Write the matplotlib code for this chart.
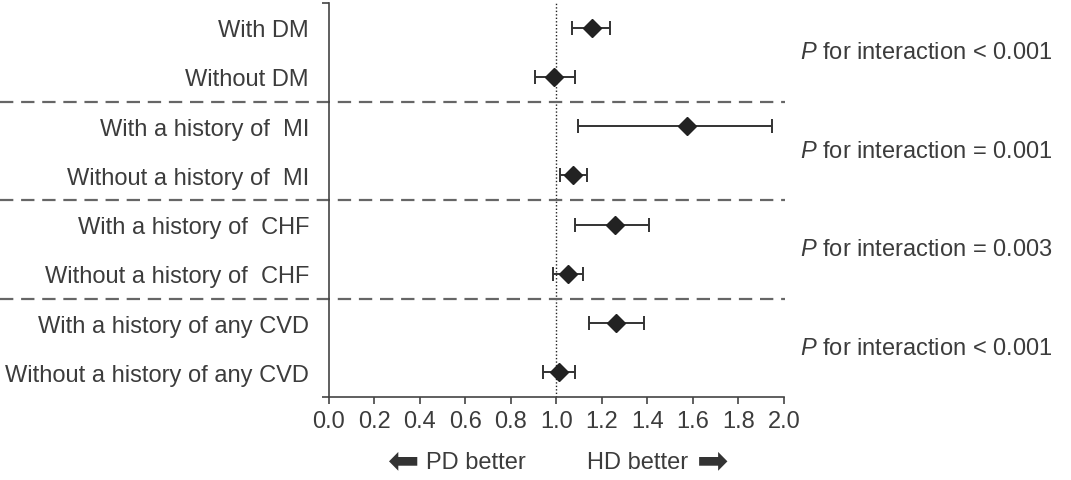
import numpy as np
import matplotlib
matplotlib.use('Agg')
import matplotlib.pyplot as plt
from matplotlib.transforms import blended_transform_factory

plt.rcParams['font.family'] = ['Liberation Sans', 'DejaVu Sans']
plt.rcParams['mathtext.fontset'] = 'custom'
plt.rcParams['mathtext.it'] = 'Liberation Sans:italic'
plt.rcParams['mathtext.rm'] = 'Liberation Sans'

# Subgroups (top to bottom)
labels = ['With DM', 'Without DM',
          'With a history of  MI', 'Without a history of  MI',
          'With a history of  CHF', 'Without a history of  CHF',
          'With a history of any CVD', 'Without a history of any CVD']
est = [1.155, 0.99, 1.575, 1.075, 1.258, 1.053, 1.261, 1.012]
lo = [1.068, 0.906, 1.094, 1.016, 1.082, 0.984, 1.145, 0.943]
hi = [1.236, 1.083, 1.946, 1.136, 1.407, 1.116, 1.385, 1.083]
p_texts = ['< 0.001', '= 0.001', '= 0.003', '< 0.001']

txt = '#3c3c3c'
fs = 17
n = len(labels)
est = np.array(est); lo = np.array(lo); hi = np.array(hi)
ypos = n - 0.5 - np.arange(n)

fig = plt.figure(figsize=(10.71, 4.81), dpi=100)
ax = fig.add_axes([328.5 / 1071, 1 - 398 / 481, (784 - 328.5) / 1071, 394 / 481])

ax.axvline(1.0, color='#222222', lw=1.0, ls=(0, (1, 1.5)), zorder=1)
ax.errorbar(est, ypos, xerr=[est - lo, hi - est], fmt='D', color='#333333',
            mfc='#222222', mec='#222222', ms=9.5, elinewidth=1.4, capsize=4.8,
            capthick=1.4, zorder=3)

# group separators, extending to the left edge of the figure
tr = blended_transform_factory(fig.transFigure, ax.transData)
for yb in [2, 4, 6]:
    ax.plot([0, 785 / 1071], [yb, yb], transform=tr, color='#666666', lw=1.6,
            ls=(0, (6, 3.5)), clip_on=False, zorder=2)

ax.set_xlim(0, 2)
ax.set_ylim(0, n)
ax.set_xticks(np.arange(0, 2.01, 0.2))
ax.set_xticklabels([f'{v:.1f}' for v in np.arange(0, 2.01, 0.2)], fontsize=fs, color=txt)
ax.tick_params(axis='x', direction='out', length=5, width=1.2, color='#444444', pad=4)

ax.set_yticks(ypos)
ax.set_yticklabels(labels, fontsize=fs, color=txt)
ax.tick_params(axis='y', length=0, pad=14)
ax.set_yticks([0, n], minor=True)
ax.tick_params(axis='y', which='minor', direction='out', length=5, width=1.2, color='#444444')

for side in ['top', 'right']:
    ax.spines[side].set_visible(False)
for side in ['left', 'bottom']:
    ax.spines[side].set_color('#444444')
    ax.spines[side].set_linewidth(1.2)

# interaction p-values, right of the plot
for i, p in enumerate(p_texts):
    yc = (ypos[2 * i] + ypos[2 * i + 1]) / 2
    ax.text(1052 / 1071, yc, f'$\\mathit{{P}}$ for interaction {p}', transform=tr,
            ha='right', va='center', fontsize=fs, color=txt)

# direction labels
fig.text(426 / 1071, 1 - 463 / 481, 'PD better', ha='left', va='center', fontsize=fs, color=txt)
fig.text(688 / 1071, 1 - 463 / 481, 'HD better', ha='right', va='center', fontsize=fs, color=txt)
fig.text(419 / 1071, 1 - 462 / 481, '\u2B05', ha='right', va='center', fontsize=27,
         color='#333333', family=['DejaVu Sans'])
fig.text(697 / 1071, 1 - 462 / 481, '\u27A1', ha='left', va='center', fontsize=27,
         color='#333333', family=['DejaVu Sans'])

fig.savefig('out.png', dpi=100)
